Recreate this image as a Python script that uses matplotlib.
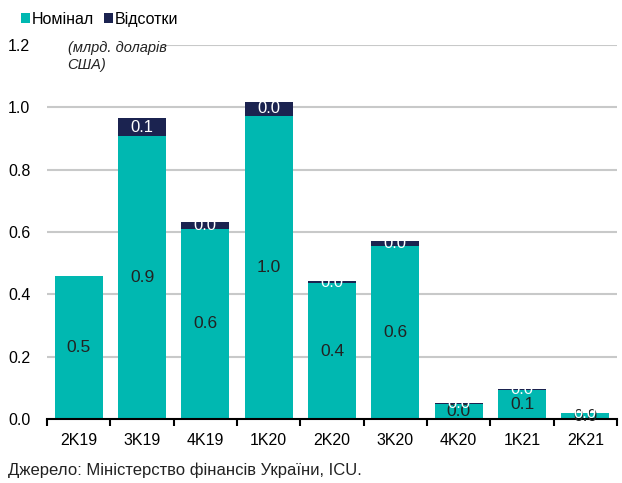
import matplotlib.pyplot as plt
import numpy as np

plt.rcParams['font.family'] = ['Liberation Sans Narrow', 'Liberation Sans', 'DejaVu Sans']

TEAL = '#00b8b1'
NAVY = '#1b2350'
GRID = '#c8c9c9'

quarters = ['2K19', '3K19', '4K19', '1K20', '2K20', '3K20', '4K20', '1K21', '2K21']
nominal = [0.458, 0.908, 0.611, 0.973, 0.435, 0.556, 0.048, 0.092, 0.018]
interest = [np.nan, 0.057, 0.021, 0.045, 0.009, 0.016, 0.003, 0.003, 0.001]

nominal_labels = ['0.5', '0.9', '0.6', '1.0', '0.4', '0.6', '0.0', '0.1', '0.0']
interest_labels = ['', '0.1', '0.0', '0.0', '0.0', '0.0', '0.0', '0.0', '0.0']

yticks = [0.0, 0.2, 0.4, 0.6, 0.8, 1.0, 1.2]

fig = plt.figure(figsize=(6.22, 4.83), dpi=100)
ax = fig.add_axes([0.0756, 0.1325, 0.9164, 0.7743])

x = np.arange(len(quarters))
b1 = ax.bar(x, nominal, width=0.76, color=TEAL, label='Номінал', zorder=3)
b2 = ax.bar(x, np.nan_to_num(interest), width=0.76, bottom=nominal, color=NAVY,
            label='Відсотки', zorder=3)

ax.bar_label(b1, labels=nominal_labels, label_type='center', fontsize=12.5,
             color='#222222', zorder=5)
ax.bar_label(b2, labels=interest_labels, label_type='center', fontsize=12,
             color='white', zorder=5)

ax.set_xlim(-0.5, len(quarters) - 0.5)
ax.set_ylim(0, 1.2)

# gridlines; the top one leaves room for the units note
for yv in yticks[1:]:
    start = 0.2 if yv == 1.2 else 0.0
    ax.axhline(yv, xmin=start, xmax=1, color=GRID, lw=1.5, zorder=1)

ax.set_yticks(yticks)
ax.set_yticklabels(['%.1f' % v for v in yticks], fontsize=11.5)
ax.tick_params(axis='y', length=0, pad=12)

ax.set_xticks(x)
ax.set_xticklabels(quarters, fontsize=11.5)
ax.set_xticks(np.arange(-0.5, len(quarters)), minor=True)
ax.tick_params(axis='x', which='major', length=0, pad=10)
ax.tick_params(axis='x', which='minor', length=5, width=1.5, direction='out')

for s in ['top', 'right', 'left']:
    ax.spines[s].set_visible(False)
ax.spines['bottom'].set_linewidth(1.5)
ax.spines['bottom'].set_zorder(4)

ax.text(0.036, 1.012, '(млрд. доларів\nСША)', transform=ax.transAxes,
        style='italic', fontsize=10.5, va='top', ha='left', linespacing=1.35,
        color='#222222')

fig.legend(handles=[b1, b2], loc='upper left', bbox_to_anchor=(0.018, 0.995),
           ncol=2, frameon=False, fontsize=11.5, handlelength=0.6,
           handleheight=0.6, handletextpad=0.1, columnspacing=0.6,
           borderaxespad=0.2)

fig.text(0.013, 0.016, 'Джерело: Міністерство фінансів України, ICU.',
         fontsize=12, color='#222222')

fig.savefig('out.png', dpi=100)
